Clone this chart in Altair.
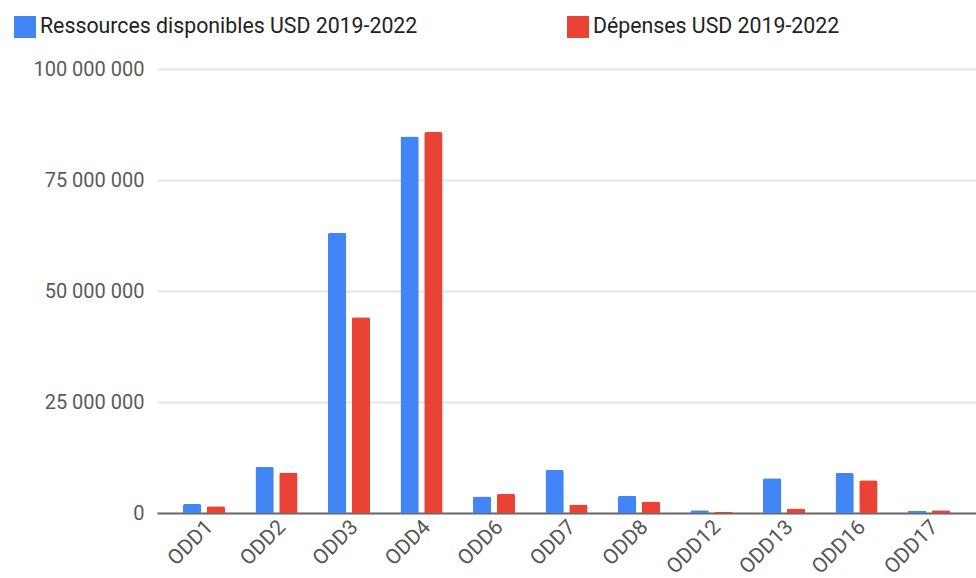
import altair as alt
import pandas as pd

# Objectifs de développement durable (ODD) et montants en USD
odd = ["ODD1", "ODD2", "ODD3", "ODD4", "ODD6", "ODD7", "ODD8",
       "ODD12", "ODD13", "ODD16", "ODD17"]
ressources = [2.0e6, 10.4e6, 63.1e6, 84.8e6, 3.7e6, 9.7e6, 3.9e6,
              0.6e6, 7.8e6, 9.0e6, 0.5e6]
depenses = [1.5e6, 9.1e6, 44.1e6, 85.8e6, 4.3e6, 1.9e6, 2.6e6,
            0.2e6, 1.0e6, 7.4e6, 0.6e6]

series = ["Ressources disponibles USD 2019-2022", "Dépenses USD 2019-2022"]
colors = ["#4285F4", "#EA4335"]

rows = []
for i, o in enumerate(odd):
    rows.append({"odd": o, "serie": series[0], "montant": ressources[i]})
    rows.append({"odd": o, "serie": series[1], "montant": depenses[i]})
df = pd.DataFrame(rows)

space_fmt = "replace(replace(format(datum.value, ','), ',', ' '), ',', ' ')"

chart = alt.Chart(df).mark_bar(
    cornerRadiusTopLeft=2, cornerRadiusTopRight=2
).encode(
    x=alt.X("odd:N", sort=odd, title=None,
            scale=alt.Scale(paddingInner=0.42, paddingOuter=0.358),
            axis=alt.Axis(labelAngle=-45, labelFont="Roboto", labelFontSize=21,
                          labelColor="#555555", ticks=False, labelPadding=3,
                          labelOffset=-2, domainColor="#6b6b6b", domainWidth=2,
                          grid=False)),
    xOffset=alt.XOffset("serie:N", sort=series,
                        scale=alt.Scale(paddingInner=0.23, paddingOuter=0)),
    y=alt.Y("montant:Q", title=None,
            scale=alt.Scale(domain=[0, 100e6], nice=False),
            axis=alt.Axis(values=[0, 25e6, 50e6, 75e6, 100e6],
                          labelExpr=space_fmt, labelFont="Roboto",
                          labelFontSize=20, labelColor="#5a5a5a",
                          ticks=False, domain=False, labelPadding=13,
                          gridColor="#e6e6e6", gridWidth=2)),
    color=alt.Color("serie:N", sort=series,
                    scale=alt.Scale(domain=series, range=colors),
                    legend=alt.Legend(orient="none", legendX=-143, legendY=-53,
                                      direction="horizontal", columns=2,
                                      columnPadding=149, title=None,
                                      symbolType="square", symbolSize=484,
                                      symbolStrokeWidth=0, labelOffset=4,
                                      labelFont="Roboto", labelFontSize=21.3,
                                      labelColor="#222222", padding=0,
                                      labelLimit=600)),
).properties(
    width=819, height=444,
    autosize=alt.AutoSizeParams(type="none"),
    padding={"left": 157, "top": 69, "right": 0, "bottom": 65},
).configure_view(stroke=None)

chart.save("out.html", embed_options={"renderer": "svg", "actions": False})
